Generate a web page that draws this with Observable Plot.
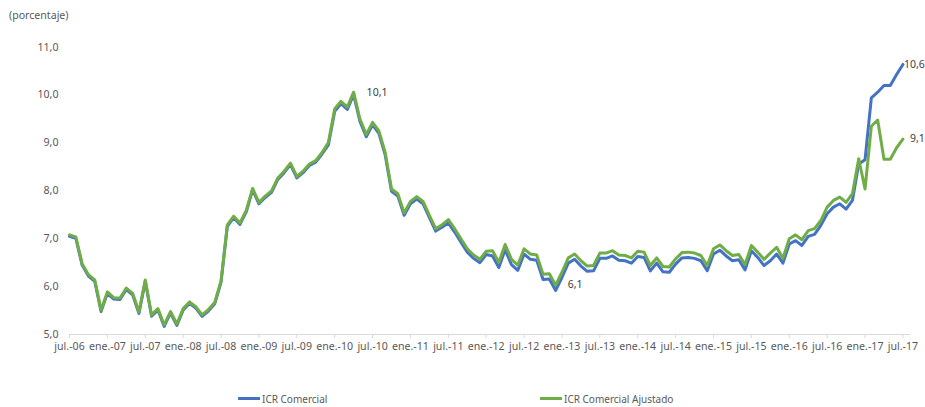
<!DOCTYPE html>
<html><head><meta charset="utf-8">
<script src="https://cdn.jsdelivr.net/npm/d3@7"></script>
<script src="https://cdn.jsdelivr.net/npm/@observablehq/plot@0.6"></script>
<style>
body{margin:0;background:#fff;font-family:"Noto Sans",sans-serif;}
#wrap{position:relative;width:925px;height:407px;overflow:hidden;}
#unit{position:absolute;left:9px;top:8px;font-size:10.6px;line-height:14px;color:#595959;}
#chart{position:absolute;left:0;top:0;}
#legend{position:absolute;top:390px;left:0;width:925px;height:17px;font-size:10px;color:#595959;}
.item{position:absolute;top:0;height:17px;display:flex;align-items:center;}
.sw{display:inline-block;width:22px;height:3px;margin-right:2px;}
</style></head><body>
<div id="wrap"><div id="chart"></div><div id="unit">(porcentaje)</div><div id="legend"></div></div>
<script>
const series = ["ICR Comercial", "ICR Comercial Ajustado"];
const colors = ["#4472C4", "#70AD47"];
const tickLabels = ["jul.-06","ene.-07","jul.-07","ene.-08","jul.-08","ene.-09","jul.-09","ene.-10","jul.-10","ene.-11","jul.-11","ene.-12","jul.-12","ene.-13","jul.-13","ene.-14","jul.-14","ene.-15","jul.-15","ene.-16","jul.-16","ene.-17","jul.-17"];
const yTicks = [5, 6, 7, 8, 9, 10, 11];

// monthly values, jul-06 .. jul-17
const icrComercial = [
7.05,7.01,6.45,6.22,6.11,5.48,5.86,5.74,5.73,5.94,5.83,5.44,
6.11,5.38,5.51,5.17,5.45,5.19,5.51,5.65,5.55,5.38,5.49,5.64,
6.09,7.26,7.44,7.30,7.56,8.02,7.73,7.86,7.97,8.24,8.38,8.55,
8.27,8.38,8.53,8.60,8.77,8.96,9.66,9.82,9.70,10.01,9.45,9.13,
9.38,9.20,8.75,7.99,7.89,7.49,7.73,7.83,7.73,7.44,7.16,7.24,
7.33,7.14,6.93,6.72,6.59,6.50,6.67,6.64,6.40,6.77,6.46,6.34,
6.68,6.57,6.55,6.15,6.16,5.92,6.19,6.49,6.57,6.43,6.32,6.33,
6.59,6.59,6.64,6.55,6.54,6.49,6.63,6.61,6.33,6.49,6.31,6.30,
6.47,6.60,6.61,6.59,6.54,6.33,6.68,6.76,6.64,6.54,6.56,6.35,
6.75,6.61,6.44,6.54,6.68,6.49,6.89,6.96,6.86,7.05,7.09,7.28,
7.52,7.66,7.73,7.62,7.80,8.56,8.65,9.94,10.06,10.20,10.20,10.43,
10.64];
const icrAjustado = [
7.08,7.04,6.48,6.25,6.14,5.51,5.89,5.77,5.76,5.97,5.86,5.47,
6.14,5.41,5.54,5.20,5.48,5.22,5.54,5.68,5.58,5.41,5.52,5.67,
6.12,7.29,7.47,7.33,7.59,8.05,7.76,7.89,8.00,8.27,8.41,8.58,
8.30,8.41,8.56,8.63,8.80,9.01,9.71,9.87,9.75,10.06,9.50,9.18,
9.43,9.25,8.80,8.04,7.94,7.54,7.78,7.88,7.78,7.49,7.21,7.29,
7.40,7.21,7.00,6.79,6.66,6.57,6.74,6.75,6.51,6.88,6.57,6.45,
6.79,6.68,6.66,6.26,6.27,6.03,6.30,6.60,6.68,6.54,6.43,6.44,
6.70,6.70,6.75,6.66,6.65,6.60,6.74,6.72,6.44,6.60,6.42,6.41,
6.58,6.71,6.72,6.70,6.65,6.44,6.79,6.87,6.75,6.65,6.67,6.46,
6.86,6.72,6.57,6.70,6.82,6.59,7.00,7.08,6.98,7.17,7.21,7.38,
7.66,7.80,7.87,7.76,7.94,8.67,8.04,9.35,9.48,8.66,8.66,8.90,
9.08];

const annotations = [
  {i: 45, v: icrAjustado[45], label: "10,1"},
  {i: 77, v: icrComercial[77], label: "6,1"},
  {i: 132, v: icrComercial[132], label: "10,6"},
  {i: 132, v: icrAjustado[132], label: "9,1"}
];

const data = [];
icrComercial.forEach((v, i) => data.push({i, v, s: series[0]}));
icrAjustado.forEach((v, i) => data.push({i, v, s: series[1]}));
const xTicks = tickLabels.map((_, k) => k * 6);
const annStyle = {x: "i", y: "v", text: "label", textAnchor: "start", fill: "#404040", fontSize: 10.5};

const chart = Plot.plot({
  width: 925, height: 380,
  marginLeft: 69, marginRight: 15, marginTop: 46.7, marginBottom: 46,
  style: {fontFamily: "Noto Sans", fontSize: "10.6px", background: "#fff", color: "#595959", overflow: "visible"},
  x: {domain: [0, 133.2]},
  y: {domain: [5, 11]},
  color: {domain: series, range: colors},
  marks: [
    Plot.ruleY([5], {stroke: "#d9d9d9", strokeWidth: 1}),
    Plot.axisX({ticks: xTicks, tickFormat: i => tickLabels[i / 6], tickSize: 4, tickPadding: 4, stroke: "#d9d9d9", fill: "#595959", label: null}),
    Plot.axisY({ticks: yTicks, tickFormat: d => d.toFixed(1).replace(".", ","), tickSize: 0, tickPadding: 11, fill: "#595959", label: null}),
    Plot.line(data, {x: "i", y: "v", z: "s", stroke: "s", strokeWidth: 3, strokeLinejoin: "round", curve: "linear"}),
    Plot.text([annotations[0]], {...annStyle, dx: 13, dy: 0}),
    Plot.text([annotations[1]], {...annStyle, dx: 12, dy: -6}),
    Plot.text([annotations[2]], {...annStyle, dx: 1, dy: 0}),
    Plot.text([annotations[3]], {...annStyle, dx: 7, dy: -1})
  ]
});
document.getElementById("chart").appendChild(chart);

const legend = document.getElementById("legend");
const legendX = [238, 540];
series.forEach((s, k) => {
  const it = document.createElement("div");
  it.className = "item";
  it.style.left = legendX[k] + "px";
  it.innerHTML = `<span class="sw" style="background:${colors[k]}"></span><span>${s}</span>`;
  legend.appendChild(it);
});
</script>
</body></html>
